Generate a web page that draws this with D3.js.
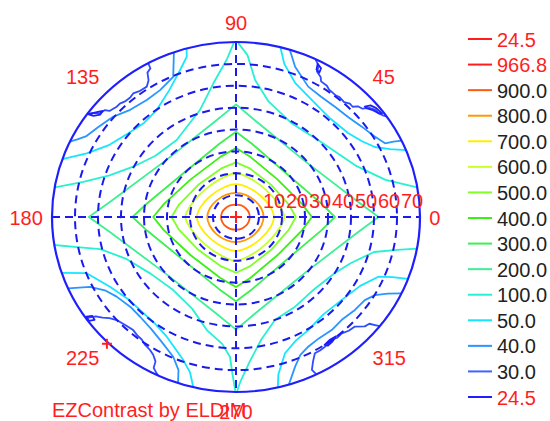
<!DOCTYPE html>
<html>
<head>
<meta charset="utf-8">
<script src="https://d3js.org/d3.v7.min.js"></script>
<style>
  body { margin: 0; background: #fff; }
  text { font-family: "Liberation Sans", Arial, sans-serif; }
</style>
</head>
<body>
<script>
// ---- values (polar angle in degrees, drawn as x/y in theta-space) ----
var ringTicks = [10, 20, 30, 40, 50, 60, 70];
var azimuthLabels = [0, 45, 90, 135, 180, 225, 270, 315];
var legendLabels = ["24.5", "966.8", "900.0", "800.0", "700.0", "600.0", "500.0", "400.0",
                    "300.0", "200.0", "100.0", "50.0", "40.0", "30.0", "24.5"];
var legendColors = ["#ff1e1e", "#ff1e1e", "#ff5a14", "#ff9900", "#ffee00", "#c8ff28", "#80ff28",
                    "#3cf014", "#3cf050", "#3cf096", "#28f0d2", "#14e6ff", "#2896ff", "#3c64ff", "#1e1eff"];
var legendRed = [true, true, false, false, false, false, false, false, false, false, false, false, false, false, true];

// closed contours, [x, y] in degrees of polar angle
var c900 = [[6,0],[5.5,2.2],[4.2,4.0],[2.3,5.3],[0,5.7],[-2.5,5.3],[-4.6,4.0],[-6,2.2],[-6.5,0],[-6,-2.2],[-4.6,-4.1],[-2.5,-5.4],[0,-5.8],[2.3,-5.4],[4.2,-4.1],[5.5,-2.2]];
var c800 = [[12,0],[11,3.9],[8.2,7.5],[4.2,10.1],[0,11],[-4.4,10.1],[-8.5,7.5],[-11.4,3.9],[-12.5,0],[-11.4,-4],[-8.5,-7.8],[-4.4,-10.5],[0,-11.5],[4.2,-10.5],[8.2,-7.8],[11,-4]];
var c700 = [[16.5,0],[15,4.5],[10.7,9.7],[5,13.6],[0,15],[-5.1,13.6],[-11,9.7],[-15.4,4.5],[-17,0],[-15.4,-4.7],[-11,-10],[-5.1,-14],[0,-15.5],[5,-14],[10.7,-10],[15,-4.7]];
var c600 = [[21,0],[18.8,5.3],[13,12.4],[5.6,17.9],[0,20],[-5.9,17.9],[-13.6,12.4],[-19.7,5.3],[-22,0],[-19.7,-5.3],[-13.6,-12.4],[-5.9,-17.9],[0,-20],[5.6,-17.9],[13,-12.4],[18.8,-5.3]];
var c500 = [[26,0],[23,5.7],[15.3,14.7],[6,22.2],[0,25],[-6.4,22.2],[-16.4,14.7],[-24.8,5.7],[-28,0],[-24.8,-5.8],[-16.4,-15],[-6.4,-22.6],[0,-25.5],[6,-22.6],[15.3,-15],[23,-5.8]];
var c400 = [[33,0],[28.8,5.9],[18,17.2],[6.2,27.5],[0,31.5],[-6.8,27.5],[-19.7,17.2],[-31.4,5.9],[-36,0],[-31.4,-6],[-19.7,-17.5],[-6.8,-27.9],[0,-32],[6.2,-27.9],[18,-17.5],[28.8,-6]];
var c300 = [[43,0],[37,6.2],[21.9,19.9],[6.9,33.5],[0,39],[-7.2,33.5],[-23,19.9],[-38.7,6.2],[-45,0],[-38.7,-6.2],[-23,-19.6],[-7.2,-33.1],[0,-38.5],[6.9,-33.1],[21.9,-19.6],[37,-6.2]];
var c200 = [[62,0],[52.7,7.2],[30.4,25.2],[8.7,43.8],[0,51.5],[-9,43.8],[-31.4,25.2],[-54.4,7.2],[-64,0],[-54.4,-7.2],[-31.4,-25.2],[-9,-43.8],[0,-51.5],[8.7,-43.8],[30.4,-25.2],[52.7,-7.2]];

// open contours, one piece per corner, ending on the rim
var c100 = [
  [[1,79.5],[5,74],[8.3,62.6],[14,53],[24,43],[36,35],[52,23.5],[65,17],[78.8,13.5]],
  [[78.8,-14.5],[70,-15],[60,-16],[50,-21],[43,-25.6],[34,-33],[25.7,-41],[17,-47],[11,-56],[6,-66],[2,-75],[0.5,-79.5]],
  [[-0.3,-79.5],[-1.5,-72],[-2.6,-64],[-6,-58],[-12.7,-51.7],[-19,-42],[-27.3,-33.4],[-37,-26],[-48,-19],[-59,-14.7],[-69,-13.8],[-79,-12.8]],
  [[-78.7,13.5],[-66.4,16.1],[-55,19],[-44.7,23],[-35,28],[-25.8,35.2],[-15.7,48.9],[-9.9,61],[-4,72],[-1,79.5]]
];
var c50 = [
  [[19.3,77.6],[21,70],[25.7,61.3],[34.3,52.1],[41,45],[48.7,38.4],[55,34.5],[60.4,32],[67,31],[73.9,30.6]],
  [[18.2,-77.8],[18.4,-72],[21.3,-62.3],[26,-56.5],[31.4,-51.7],[38,-44.5],[46,-37.9],[54,-31.5],[61.9,-27.3],[68,-27.5],[74.8,-28.3]],
  [[-75.8,-25.5],[-64.9,-25.7],[-54.8,-31.9],[-47,-37.5],[-41.7,-42.5],[-35,-49],[-30.1,-54.7],[-22.9,-65.4],[-20,-71],[-18.6,-77.7]],
  [[-21.5,77],[-21.4,73.3],[-24.3,67.2],[-29,58],[-34.5,48.9],[-40,43],[-46.8,38.3],[-55,33],[-64.9,29.1],[-75.5,26.5]]
];
var c40 = [
  [[23.4,76.5],[25.7,68.7],[31.4,59.6],[37,55],[43,50.4],[49,45.5],[54.7,41.3],[60,37],[64.8,33.7],[68.5,34.5],[72,34.9]],
  [[23,-76.6],[25.7,-68.4],[28,-63],[31.4,-59.3],[36,-55.5],[41.6,-51.7],[46,-47],[51.7,-42.5],[56,-38],[60.4,-35.7],[66,-35],[72,-34.9]],
  [[-72.9,-32.6],[-63.5,-31.9],[-57,-33.5],[-51.9,-36.4],[-46,-41],[-41.7,-45.6],[-37,-51],[-33,-56.2],[-27.3,-63.9],[-25,-70],[-25.2,-75.9]],
  [[-27,75.2],[-27.3,64.1],[-33,58],[-38.8,53.5],[-46,49],[-53.3,45.9],[-60,41],[-65,37],[-69,35.5],[-72.2,34.5]]
];
var c30 = [
  [[34.6,72.1],[36,69],[35.2,66.5],[36.8,64],[37,62],[39.5,60],[40.5,58.2],[43.5,55.5],[45,54.8],[47,52.5],[49.5,51.8],[50.7,50.4],[53,50.6],[55,49.5],[58,49.9],[60.9,48.9],[62,47.3],[63.8,46.5],[65.4,46]],
  [[35,-71.9],[33,-69.9],[33.5,-66],[34.3,-62.3],[36.5,-61],[38.7,-59.3],[42,-56],[44,-55.2],[46,-53.2],[49,-52],[51.7,-50.1],[56,-50],[58,-48.8],[60.4,-49.4],[62.5,-49.9]],
  [[-65.3,-46.2],[-61,-45.4],[-58,-46],[-55,-46.2],[-51.9,-47.1],[-48,-49.5],[-44.7,-51.7],[-43,-54],[-41,-56],[-39.5,-58.5],[-37.4,-60.8],[-36,-63],[-35,-66],[-35.8,-69],[-34.5,-71.5],[-33.8,-72.5]],
  [[-38.1,70.1],[-37.2,68],[-38.5,66],[-38,62.5],[-38.8,59.6],[-42,57.5],[-44.7,56.5],[-46,54.6],[-48,53],[-50.5,51.8],[-51.9,50.4],[-55,48.5],[-57,48.9],[-59.1,47.4],[-62,47.6],[-64.6,47.1]]
];
var c245 = [
  [[56,50.5],[58.5,51],[61,49.8],[63.5,47.3],[62,47.5],[59.5,48.8],[57,49.6]],
  [[35.5,70],[37,68],[36.2,66],[35,67.5]],
  [[-58,48.5],[-61,47.8],[-64,46.9],[-62,46.2],[-59,46.8]],
  [[-65,-45.5],[-62.5,-45.2],[-61.5,-47],[-64,-47.5]],
  [[38.5,-58.5],[41,-56],[43.5,-54.5],[42,-56.8],[40,-58.8]]
];

var contourTable = [
  {segs: [c200], color: legendColors[9], curve: d3.curveLinearClosed},
  {segs: [c300], color: legendColors[8], curve: d3.curveLinearClosed},
  {segs: [c400], color: legendColors[7], curve: d3.curveLinearClosed},
  {segs: [c500], color: legendColors[6], curve: d3.curveLinearClosed},
  {segs: [c600], color: legendColors[5], curve: d3.curveCatmullRomClosed},
  {segs: [c700], color: legendColors[4], curve: d3.curveCatmullRomClosed},
  {segs: [c800], color: legendColors[3], curve: d3.curveCatmullRomClosed},
  {segs: [c900], color: legendColors[2], curve: d3.curveCatmullRomClosed},
  {segs: c100, color: legendColors[10], curve: d3.curveLinear},
  {segs: c50, color: legendColors[11], curve: d3.curveLinear},
  {segs: c40, color: legendColors[12], curve: d3.curveLinear},
  {segs: c30, color: "#2f4cff", curve: d3.curveLinear},
  {segs: c245, color: legendColors[14], curve: d3.curveLinearClosed}
];

var width = 550, height = 421;
var cx = 236, cy = 217, rx = 184, ry = 175;

var x = d3.scaleLinear().domain([-80, 80]).range([cx - rx, cx + rx]);
var y = d3.scaleLinear().domain([-80, 80]).range([cy + ry, cy - ry]);

var svg = d3.select("body").append("svg")
    .attr("width", width)
    .attr("height", height);

// contours
contourTable.forEach(function (c) {
    var line = d3.line()
        .x(function (d) { return x(d[0]); })
        .y(function (d) { return y(d[1]); })
        .curve(c.curve);
    svg.append("g").selectAll("path")
        .data(c.segs)
        .enter().append("path")
        .attr("d", line)
        .attr("fill", "none")
        .attr("stroke", c.color)
        .attr("stroke-width", 1.8)
        .attr("stroke-linejoin", "round");
});

// dashed rings
svg.append("g").selectAll("ellipse")
    .data(ringTicks)
    .enter().append("ellipse")
    .attr("cx", x(0))
    .attr("cy", y(0))
    .attr("rx", function (d) { return x(d) - x(0); })
    .attr("ry", function (d) { return y(0) - y(d); })
    .attr("fill", "none")
    .attr("stroke", "#1a1aee")
    .attr("stroke-width", 2)
    .attr("stroke-dasharray", "8,5");

// dashed axes
svg.append("line")
    .attr("x1", x(-80)).attr("x2", x(80)).attr("y1", y(0)).attr("y2", y(0))
    .attr("stroke", "#1a1aee").attr("stroke-width", 2).attr("stroke-dasharray", "8,5");
svg.append("line")
    .attr("x1", x(0)).attr("x2", x(0)).attr("y1", y(80)).attr("y2", y(-80))
    .attr("stroke", "#1a1aee").attr("stroke-width", 2).attr("stroke-dasharray", "8,5");

// rim
svg.append("ellipse")
    .attr("cx", x(0)).attr("cy", y(0))
    .attr("rx", x(80) - x(0)).attr("ry", y(0) - y(80))
    .attr("fill", "none")
    .attr("stroke", "#1e1eff")
    .attr("stroke-width", 2.2);

// red crosses: centre and 225 mark
function cross(px, py, s) {
    svg.append("path")
        .attr("d", "M" + (px - s) + "," + py + "H" + (px + s) + "M" + px + "," + (py - s) + "V" + (py + s))
        .attr("stroke", "#ff1e1e").attr("stroke-width", 2).attr("fill", "none");
}
cross(x(0), y(0), 6);
cross(x(80 * Math.cos(225 * Math.PI / 180)) + 1, y(80 * Math.sin(225 * Math.PI / 180)) + 3, 5);

// ring labels along the 0 axis
svg.append("g").selectAll("text")
    .data(ringTicks)
    .enter().append("text")
    .attr("x", function (d) { return x(d) + 4; })
    .attr("y", y(0) - 9)
    .attr("fill", "#ff1e1e")
    .style("font-size", "20px")
    .text(function (d) { return d; });

// azimuth labels
svg.append("g").selectAll("text")
    .data(azimuthLabels)
    .enter().append("text")
    .attr("x", function (d) { return x(84 * Math.cos(d * Math.PI / 180)); })
    .attr("y", function (d) {
        var s = Math.sin(d * Math.PI / 180);
        return y(84 * s) + (s > 0.1 ? -3 : (s < -0.1 ? 18 : 8));
    })
    .attr("text-anchor", function (d) {
        var c = Math.cos(d * Math.PI / 180);
        return c > 0.1 ? "start" : (c < -0.1 ? "end" : "middle");
    })
    .attr("fill", "#ff1e1e")
    .style("font-size", "20px")
    .text(function (d) { return d; });

svg.append("text")
    .attr("x", 52).attr("y", 417)
    .attr("fill", "#ff1e1e")
    .style("font-size", "20px")
    .text("EZContrast by ELDIM");

// legend
var ly = d3.scalePoint().domain(d3.range(legendLabels.length)).range([39, 397]);
var leg = svg.append("g").selectAll("g")
    .data(legendLabels)
    .enter().append("g")
    .attr("transform", function (d, i) { return "translate(0," + ly(i) + ")"; });
leg.append("line")
    .attr("x1", 468).attr("x2", 492)
    .attr("stroke", function (d, i) { return legendColors[i]; })
    .attr("stroke-width", 2);
leg.append("text")
    .attr("x", 497).attr("y", 7.5)
    .attr("fill", function (d, i) { return legendRed[i] ? "#ff1e1e" : "#222"; })
    .style("font-size", "20px")
    .text(function (d) { return d; });
</script>
</body>
</html>
